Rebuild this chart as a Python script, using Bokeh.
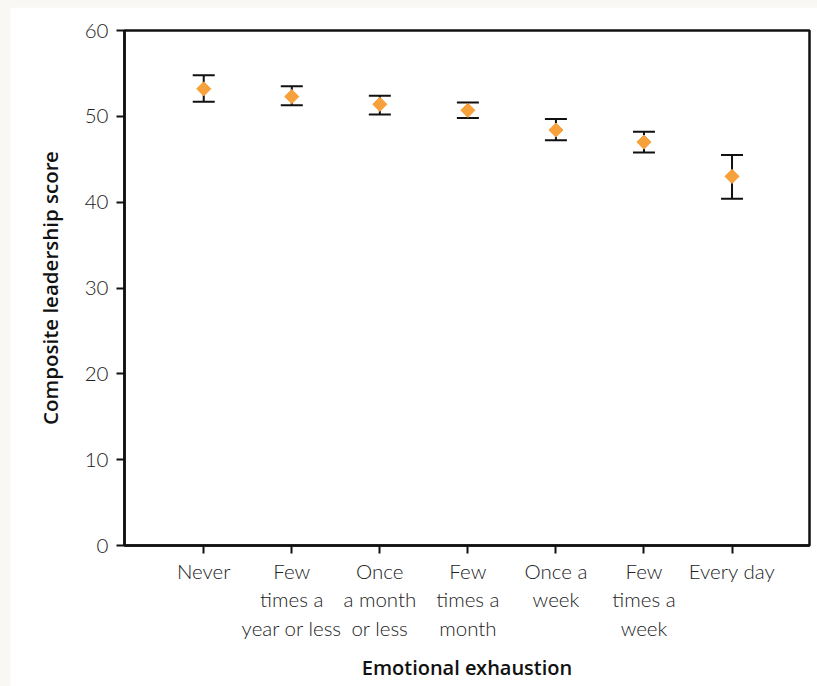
from bokeh.plotting import figure
from bokeh.models import ColumnDataSource, Whisker, TeeHead, FixedTicker
from bokeh.layouts import column
from bokeh.embed import file_html
from bokeh.resources import INLINE

# Frequency of emotional exhaustion (x categories)
categories = [
    "Never",
    "Few\ntimes a\nyear or less",
    "Once\na month\nor less",
    "Few\ntimes a\nmonth",
    "Once a\nweek",
    "Few\ntimes a\nweek",
    "Every day",
]
# Mean composite leadership score and its error-bar limits
mean_score = [53.2, 52.3, 51.4, 50.7, 48.4, 47.0, 43.0]
upper_limit = [54.8, 53.5, 52.4, 51.6, 49.7, 48.2, 45.5]
lower_limit = [51.7, 51.3, 50.2, 49.8, 47.2, 45.8, 40.4]
y_ticks = [0, 10, 20, 30, 40, 50, 60]

positions = list(range(1, len(categories) + 1))
src = ColumnDataSource(dict(x=positions, y=mean_score, upper=upper_limit, lower=lower_limit))

TICK_FONT = "Lato Light"
LABEL_FONT = "Open Sans SemiBold"

p = figure(
    width=807, height=679,
    x_range=(0.1, 7.88), y_range=(0, 60),
    output_backend="svg", toolbar_location=None,
    min_border_left=114, min_border_top=23, min_border_right=8, min_border_bottom=141,
    background_fill_color="white", border_fill_color="white",
)
p.margin = (7, 0, 0, 10)

p.outline_line_color = "#111111"
p.outline_line_width = 2.5
p.xgrid.visible = False
p.ygrid.visible = False

# error bars
caps = dict(size=22, line_width=2, line_color="#111111")
p.add_layout(Whisker(
    base="x", upper="upper", lower="lower", source=src, dimension="height",
    line_width=2, line_color="#111111",
    upper_head=TeeHead(**caps), lower_head=TeeHead(**caps),
))

# mean markers
p.scatter("x", "y", source=src, marker="square", size=10, angle=0.785398,
          fill_color="#f6a13b", line_color="#f6a13b")

for ax in (p.xaxis[0], p.yaxis[0]):
    ax.axis_line_width = 2.5
    ax.axis_line_color = "#111111"
    ax.major_tick_line_width = 2
    ax.major_tick_line_color = "#111111"
    ax.major_tick_out = 8
    ax.major_tick_in = 0
    ax.minor_tick_line_color = None
    ax.major_label_text_font = TICK_FONT
    ax.major_label_text_font_size = "20.5px"
    ax.major_label_text_color = "#222222"
    ax.axis_label_text_font = LABEL_FONT
    ax.axis_label_text_font_style = "normal"
    ax.axis_label_text_color = "#111111"

p.xaxis.ticker = FixedTicker(ticks=positions)
p.xaxis.major_label_overrides = {pos: lab for pos, lab in zip(positions, categories)}
p.xaxis.major_label_standoff = 5
p.xaxis.axis_label = "Emotional exhaustion"
p.xaxis.axis_label_text_font_size = "20px"
p.xaxis.axis_label_standoff = 11

p.yaxis.ticker = FixedTicker(ticks=y_ticks)
p.yaxis.major_label_standoff = 8
p.yaxis.axis_label = "Composite leadership score"
p.yaxis.axis_label_text_font_size = "20.5px"
p.yaxis.axis_label_standoff = 18

page = column(p, width=817, height=686, styles={"background-color": "#f9f8f4"})

open("out.html", "w").write(file_html(page, INLINE))
